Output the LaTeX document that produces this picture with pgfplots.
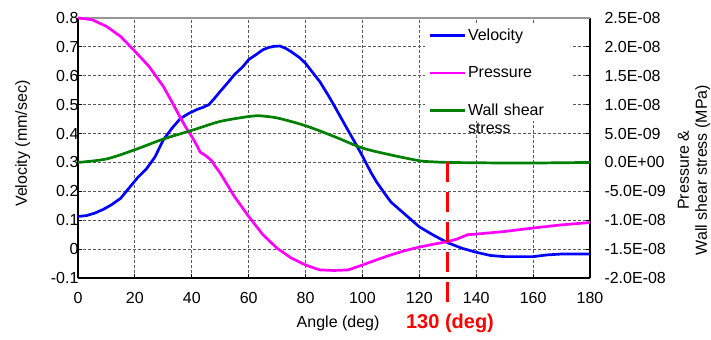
\documentclass[border=0pt]{standalone}
\usepackage{fontspec}
\setmainfont{Liberation Sans}
\usepackage{pgfplots}
\usepackage{pgfplotstable}
\pgfplotsset{compat=1.18}
\definecolor{wss}{RGB}{0,128,0}
\definecolor{vel}{RGB}{0,0,255}
\definecolor{mag}{RGB}{255,0,255}
\definecolor{redc}{RGB}{255,0,0}
\definecolor{gridc}{RGB}{90,90,90}
\definecolor{topc}{RGB}{150,150,150}
\pgfplotsset{
  short legend/.style={legend image code/.code={\draw[##1] (0bp,0bp) -- (35bp,0bp);}},
}

\pgfplotstableread{
a v
0 0.113
3 0.116
6 0.125
9 0.138
12 0.155
15 0.176
18 0.212
21 0.248
24 0.277
27 0.318
30 0.378
33 0.418
36 0.452
39 0.470
42 0.484
44 0.491
46 0.500
48 0.522
50 0.546
53 0.580
55 0.604
58 0.632
60 0.656
63 0.676
65 0.690
67 0.698
69 0.702
71 0.703
73 0.695
75 0.683
78 0.662
80 0.643
83 0.605
85 0.580
88 0.532
90 0.498
93 0.445
95 0.410
98 0.358
100 0.322
103 0.265
105 0.232
108 0.190
110 0.163
115 0.120
120 0.077
125 0.048
130 0.022
135 0.003
140 -0.011
145 -0.022
150 -0.026
160 -0.026
165 -0.020
170 -0.017
180 -0.017
}\veltable

\pgfplotstableread{
a p
0 2.50e-8
5 2.47e-8
10 2.355e-8
15 2.18e-8
20 1.925e-8
25 1.66e-8
30 1.315e-8
33 1.05e-8
36 0.775e-8
38 0.60e-8
40 0.45e-8
42 0.275e-8
43 0.175e-8
45 0.115e-8
47 0.03e-8
48 -0.05e-8
50 -0.185e-8
55 -0.59e-8
60 -0.935e-8
65 -1.25e-8
70 -1.485e-8
75 -1.655e-8
80 -1.775e-8
85 -1.86e-8
90 -1.87e-8
95 -1.86e-8
100 -1.775e-8
105 -1.685e-8
110 -1.60e-8
115 -1.525e-8
120 -1.465e-8
125 -1.415e-8
130 -1.37e-8
133 -1.33e-8
137 -1.25e-8
140 -1.24e-8
150 -1.195e-8
160 -1.135e-8
170 -1.08e-8
180 -1.04e-8
}\prestable

\pgfplotstableread{
a w
0 0
10 0.06e-8
20 0.22e-8
30 0.405e-8
40 0.555e-8
50 0.71e-8
60 0.795e-8
63 0.81e-8
70 0.77e-8
80 0.635e-8
90 0.45e-8
100 0.25e-8
110 0.13e-8
120 0.03e-8
125 0.01e-8
130 0
140 -0.005e-8
150 -0.01e-8
160 -0.01e-8
170 -0.005e-8
180 0
}\wsstable

\newcommand{\tfont}{\fontsize{16bp}{18bp}\selectfont}

\begin{document}
\begin{tikzpicture}
\useasboundingbox (-78bp,-62bp) rectangle (633bp,278bp);
\begin{axis}[
  at={(0,0)}, anchor=south west,
  scale only axis, width=512bp, height=260bp,
  xmin=0, xmax=180, ymin=-0.1, ymax=0.8,
  axis x line*=bottom, axis y line*=left,
  axis line style={line width=2.6bp, black, -},
  xtick={0,20,40,60,80,100,120,140,160,180},
  xticklabels={0,20,40,60,80,100,120,140,160,180},
  ytick={-0.1,0,0.1,0.2,0.3,0.4,0.5,0.6,0.7,0.8},
  yticklabels={-0.1,0,0.1,0.2,0.3,0.4,0.5,0.6,0.7,0.8},
  tick align=inside, major tick length=4bp,
  tick style={black, line width=1.2bp},
  grid=major, grid style={gridc, line width=0.8bp, dash pattern=on 3bp off 2bp},
  ticklabel style={font=\tfont},
  xticklabel style={yshift=-11bp},
  yticklabel style={xshift=4bp},
  label style={font=\tfont},
  xlabel={Angle (deg)},
  xlabel style={at={(axis description cs:0.508,-0.173)}, anchor=center},
  ylabel={Velocity (mm/sec)},
  ylabel style={at={(axis description cs:-0.108,0.517)}, anchor=center},
]
\addplot[vel, line width=2.7bp] table[x=a, y=v] {\veltable};
\end{axis}
\begin{axis}[
  at={(0,0)}, anchor=south west,
  scale only axis, width=512bp, height=260bp,
  xmin=0, xmax=180, ymin=-2e-8, ymax=2.5e-8,
  axis x line=none, axis y line*=right,
  axis line style={line width=2.6bp, black, -},
  ytick={-2e-8,-1.5e-8,-1e-8,-0.5e-8,0,0.5e-8,1e-8,1.5e-8,2e-8,2.5e-8},
  yticklabels={-2.0E-08,-1.5E-08,-1.0E-08,-5.0E-09,0.0E+00,5.0E-09,1.0E-08,1.5E-08,2.0E-08,2.5E-08},
  scaled y ticks=false,
  tick align=inside, major tick length=4bp,
  tick style={black, line width=1.2bp},
  ticklabel style={font=\tfont},
  yticklabel style={anchor=west, xshift=11bp},
  label style={font=\tfont},
  ylabel={Pressure \&\\Wall shear stress (MPa)},
  ylabel style={at={(axis description cs:1.203,0.415)}, anchor=center, align=center},
  clip=false,
  short legend,
  legend style={at={(axis description cs:0.678,0.975)}, anchor=north west,
    fill=white, draw=none, font=\fontsize{16bp}{17.5bp}\selectfont, row sep=21bp,
    inner xsep=3bp, inner ysep=2bp,
    nodes={text width=100bp, align=left, inner sep=2pt}},
]
\draw[topc, line width=2bp] (rel axis cs:0,1) -- (rel axis cs:1,1);
\addlegendimage{vel, line width=2.7bp}
\addlegendentry{Velocity}
\addplot[mag, line width=2.7bp] table[x=a, y=p] {\prestable};
\addlegendentry{Pressure}
\addplot[wss, line width=2.7bp, smooth]
  table[x=a, y=w] {\wsstable};
\addlegendentry{Wall shear\\stress}
\addplot[redc, line width=2.7bp, dash pattern=on 20bp off 10bp, forget plot]
  coordinates {(130,0) (130,-2.52e-8)};
\node[font=\fontsize{20bp}{22bp}\selectfont\bfseries, text=redc, anchor=center]
  at (axis description cs:0.7266,-0.173) {130 (deg)};
\end{axis}
\end{tikzpicture}
\end{document}
